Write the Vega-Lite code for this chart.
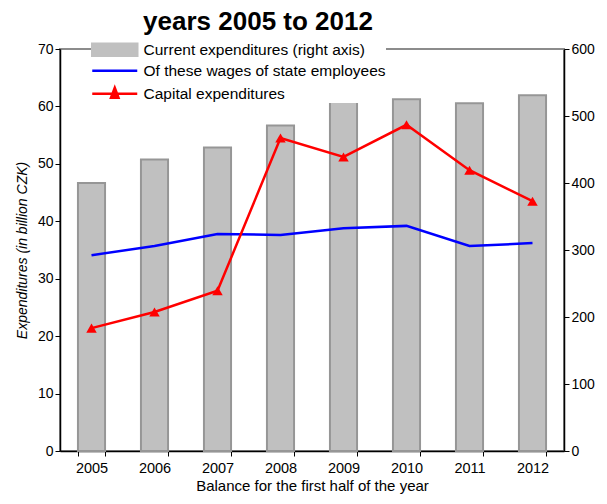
{
  "$schema": "https://vega.github.io/schema/vega-lite/v6.json",
  "width": 504,
  "height": 402,
  "autosize": "none",
  "padding": {"left": 60, "top": 49, "right": 43, "bottom": 53},
  "title": {"text": "years 2005 to 2012", "fontSize": 26, "font": "Liberation Sans", "fontWeight": "bold", "color": "black", "anchor": "middle", "dx": -54, "offset": 7},
  "config": {
    "view": {"stroke": "#8c8c8c", "strokeWidth": 2},
    "font": "Liberation Sans",
    "axis": {"grid": false, "domainColor": "black", "tickColor": "black", "labelColor": "black", "titleColor": "black", "labelFontSize": 14, "titleFontSize": 14, "titleFontWeight": "normal", "labelFont": "Liberation Sans", "titleFont": "Liberation Sans", "domainWidth": 1.5, "tickSize": 5}
  },
  "data": {"values": [
    {"year": "2005", "series": "Current expenditures (right axis)", "value": 400},
    {"year": "2006", "series": "Current expenditures (right axis)", "value": 435},
    {"year": "2007", "series": "Current expenditures (right axis)", "value": 453},
    {"year": "2008", "series": "Current expenditures (right axis)", "value": 486},
    {"year": "2009", "series": "Current expenditures (right axis)", "value": 522},
    {"year": "2010", "series": "Current expenditures (right axis)", "value": 525},
    {"year": "2011", "series": "Current expenditures (right axis)", "value": 519},
    {"year": "2012", "series": "Current expenditures (right axis)", "value": 531},
    {"year": "2005", "series": "Of these wages of state employees", "value": 34.1},
    {"year": "2006", "series": "Of these wages of state employees", "value": 35.7},
    {"year": "2007", "series": "Of these wages of state employees", "value": 37.8},
    {"year": "2008", "series": "Of these wages of state employees", "value": 37.6},
    {"year": "2009", "series": "Of these wages of state employees", "value": 38.8},
    {"year": "2010", "series": "Of these wages of state employees", "value": 39.2},
    {"year": "2011", "series": "Of these wages of state employees", "value": 35.7},
    {"year": "2012", "series": "Of these wages of state employees", "value": 36.2},
    {"year": "2005", "series": "Capital expenditures", "value": 21.4},
    {"year": "2006", "series": "Capital expenditures", "value": 24.2},
    {"year": "2007", "series": "Capital expenditures", "value": 27.9},
    {"year": "2008", "series": "Capital expenditures", "value": 54.5},
    {"year": "2009", "series": "Capital expenditures", "value": 51.2},
    {"year": "2010", "series": "Capital expenditures", "value": 56.8},
    {"year": "2011", "series": "Capital expenditures", "value": 48.9},
    {"year": "2012", "series": "Capital expenditures", "value": 43.5}
  ]},
  "encoding": {
    "x": {"field": "year", "type": "ordinal", "scale": {"paddingInner": 0.57, "paddingOuter": 0.285},
      "axis": {"title": "Balance for the first half of the year", "labelAngle": 0, "tickBand": "extent", "labelPadding": 5, "titlePadding": 4, "labelFontSize": 14.5, "titleFontSize": 15}},
    "color": {"field": "series", "type": "nominal",
      "scale": {"domain": ["Current expenditures (right axis)", "Of these wages of state employees", "Capital expenditures"], "range": ["#c0c0c0", "#0000ff", "#ff0000"]},
      "legend": {"title": null, "orient": "none", "legendX": 47, "legendY": -7, "fillColor": "white", "padding": 0, "labelFontSize": 15.5, "labelFont": "Liberation Sans", "labelColor": "black", "labelLimit": 400, "symbolSize": 100, "labelOffset": 21, "rowPadding": 2,
        "encode": {"symbols": {"update": {
          "shape": {"signal": "datum.value === 'Current expenditures (right axis)' ? 'M-4.5,-1.2H4.5V1.2H-4.5Z' : (datum.value === 'Capital expenditures' ? 'M-4.5,0H4.5M0,-1.2L0.75,0.8L-0.75,0.8Z' : 'M-4.5,0H4.5')"},
          "fill": {"signal": "datum.value === 'Of these wages of state employees' ? 'transparent' : scale('color', datum.value)"},
          "stroke": {"signal": "datum.value === 'Current expenditures (right axis)' ? '#969696' : scale('color', datum.value)"},
          "strokeWidth": {"value": 2.5},
          "opacity": {"value": 1}
        }}}}}
  },
  "layer": [
    {
      "transform": [{"filter": "datum.series === 'Current expenditures (right axis)'"}],
      "mark": {"type": "bar", "stroke": "#969696", "strokeWidth": 2, "opacity": 1},
      "encoding": {
        "y": {"field": "value", "type": "quantitative", "scale": {"domain": [0, 600]},
          "axis": {"orient": "right", "values": [0, 100, 200, 300, 400, 500, 600], "title": null}}
      }
    },
    {
      "transform": [{"filter": "datum.series !== 'Current expenditures (right axis)'"}],
      "layer": [
        {
          "mark": {"type": "line", "strokeWidth": 2.5},
          "encoding": {
            "y": {"field": "value", "type": "quantitative", "scale": {"domain": [0, 70]},
              "axis": {"orient": "left", "values": [0, 10, 20, 30, 40, 50, 60, 70], "title": "Expenditures (in billion CZK)", "titleFontStyle": "italic", "titlePadding": 8}}
          }
        },
        {
          "transform": [{"filter": "datum.series === 'Capital expenditures'"}],
          "mark": {"type": "point", "shape": "triangle-up", "filled": true, "size": 110, "opacity": 1},
          "encoding": {
            "y": {"field": "value", "type": "quantitative"}
          }
        }
      ]
    }
  ],
  "resolve": {"scale": {"y": "independent"}}
}
